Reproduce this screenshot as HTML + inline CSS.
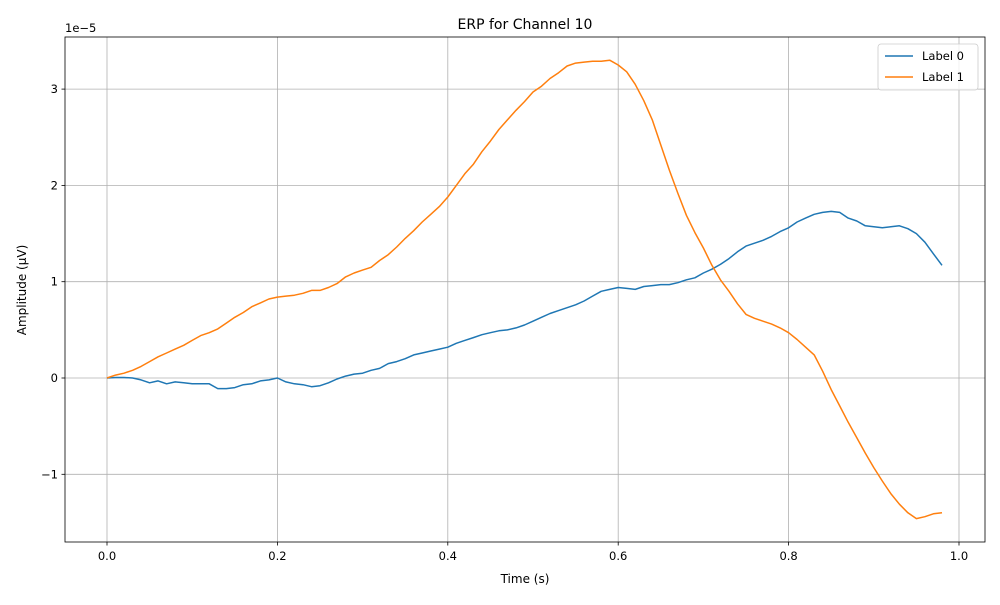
<!DOCTYPE html>
<html><head><meta charset="utf-8"><style>
body{margin:0;background:#fff;font-family:"Liberation Sans","DejaVu Sans",sans-serif}
svg text{font-family:"DejaVu Sans","Liberation Sans",sans-serif}
</style></head><body>
<svg id="c" width="1000" height="600"></svg>
<script>
const times=[];for(let i=0;i<=98;i++)times.push(i/100);
const label0=[0,0.005,0.005,0,-0.02,-0.05,-0.03,-0.06,-0.04,-0.05,-0.06,-0.06,-0.06,-0.11,-0.11,-0.1,-0.07,-0.06,-0.03,-0.02,0,-0.04,-0.06,-0.07,-0.09,-0.08,-0.05,-0.01,0.02,0.04,0.05,0.08,0.1,0.15,0.17,0.2,0.24,0.26,0.28,0.3,0.32,0.36,0.39,0.42,0.45,0.47,0.49,0.5,0.52,0.55,0.59,0.63,0.67,0.7,0.73,0.76,0.8,0.85,0.9,0.92,0.94,0.93,0.92,0.95,0.96,0.97,0.97,0.99,1.02,1.04,1.09,1.13,1.18,1.24,1.31,1.37,1.4,1.43,1.47,1.52,1.56,1.62,1.66,1.7,1.72,1.73,1.72,1.66,1.63,1.58,1.57,1.56,1.57,1.58,1.55,1.5,1.41,1.29,1.17];
const label1=[0,0.03,0.05,0.08,0.12,0.17,0.22,0.26,0.3,0.34,0.39,0.44,0.47,0.51,0.57,0.63,0.68,0.74,0.78,0.82,0.84,0.85,0.86,0.88,0.91,0.91,0.94,0.98,1.05,1.09,1.12,1.15,1.22,1.28,1.36,1.45,1.53,1.62,1.7,1.78,1.88,2.0,2.12,2.22,2.35,2.46,2.58,2.68,2.78,2.87,2.97,3.03,3.11,3.17,3.24,3.27,3.28,3.29,3.29,3.3,3.25,3.18,3.05,2.88,2.68,2.42,2.16,1.92,1.69,1.51,1.35,1.17,1.02,0.9,0.77,0.66,0.62,0.59,0.56,0.52,0.47,0.4,0.32,0.24,0.07,-0.12,-0.29,-0.46,-0.62,-0.78,-0.93,-1.07,-1.2,-1.31,-1.4,-1.46,-1.44,-1.41,-1.4];
const xTicks=[0,0.2,0.4,0.6,0.8,1.0];
const xTickLabels=["0.0","0.2","0.4","0.6","0.8","1.0"];
const yTicks=[-1,0,1,2,3];
const yTickLabels=["\u22121","0","1","2","3"];
const L=65,R=985,T=37,B=542;
const X=t=>107+t*852;
const Y=v=>378-v*96.3;
const s=document.getElementById('c');const NS='http://www.w3.org/2000/svg';
function mk(tag,at,txt){const e=document.createElementNS(NS,tag);for(const k in at)e.setAttribute(k,at[k]);if(txt!=null)e.textContent=txt;s.appendChild(e);return e;}
xTicks.forEach((t,i)=>{
 let g=mk('line',{x1:X(t),x2:X(t),y1:T,y2:B,stroke:'#b0b0b0','stroke-width':0.8});
 
 
 let k=mk('line',{x1:X(t),x2:X(t),y1:B,y2:B+3.5,stroke:'#000','stroke-width':0.8});
 
 
 let tx=mk('text',{x:X(t),y:B+18,'font-size':11.5,'text-anchor':'middle'},xTickLabels[i]);
 
 
});
yTicks.forEach((v,i)=>{
 let g=mk('line',{x1:L,x2:R,y1:Y(v),y2:Y(v),stroke:'#b0b0b0','stroke-width':0.8});
 
 
 let k=mk('line',{x1:L-3.5,x2:L,y1:Y(v),y2:Y(v),stroke:'#000','stroke-width':0.8});
 
 
 let tx=mk('text',{x:L-7,y:Y(v)+4,'font-size':11.5,'text-anchor':'end'},yTickLabels[i]);
 
 
});
function line(vals,color,name){
 const d=vals.map((v,i)=>(i?'L':'M')+X(times[i]).toFixed(1)+','+Y(v).toFixed(1)).join('');
 const p=mk('path',{d:d,fill:'none',stroke:color,'stroke-width':1.5,'stroke-linejoin':'round'});
 
 
}
line(label0,'#1f77b4','label-0-line');
line(label1,'#ff7f0e','label-1-line');
</script>
<svg width="1000" height="600" style="position:absolute;left:0;top:0">
<rect x="65" y="37" width="920" height="505" fill="none" stroke="#000" stroke-width="0.8"/>
<text x="525" y="29" font-size="14" text-anchor="middle" font-family="DejaVu Sans, Liberation Sans, sans-serif">ERP for Channel 10</text>
<text x="65" y="32" font-size="11.5" font-family="DejaVu Sans, Liberation Sans, sans-serif">1e−5</text>
<text x="525" y="583" font-size="12" text-anchor="middle" font-family="DejaVu Sans, Liberation Sans, sans-serif">Time (s)</text>
<text x="26" y="290" font-size="12" text-anchor="middle" transform="rotate(-90 26 290)" font-family="DejaVu Sans, Liberation Sans, sans-serif">Amplitude (µV)</text>
<g>
<rect x="878" y="44" width="100" height="46" rx="3" fill="#fff" fill-opacity="0.8" stroke="#ccc" stroke-width="0.8"/>
<line x1="885" x2="913" y1="56" y2="56" stroke="#1f77b4" stroke-width="1.5"/>
<text x="922" y="60" font-size="11.5" font-family="DejaVu Sans, Liberation Sans, sans-serif">Label 0</text>
<line x1="885" x2="913" y1="77" y2="77" stroke="#ff7f0e" stroke-width="1.5"/>
<text x="922" y="81" font-size="11.5" font-family="DejaVu Sans, Liberation Sans, sans-serif">Label 1</text>
</g>
</svg>
</body></html>
